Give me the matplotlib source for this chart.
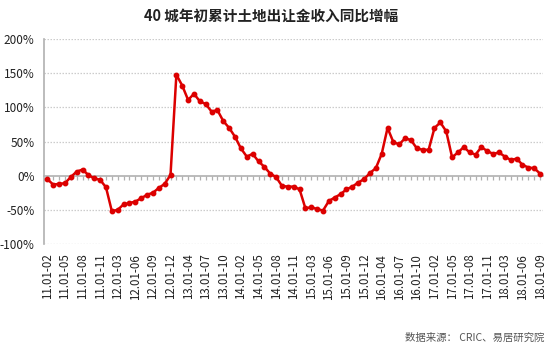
import matplotlib
matplotlib.use("Agg")
import matplotlib.pyplot as plt
import numpy as np

plt.rcParams['font.family'] = ['Noto Sans CJK SC', 'DejaVu Sans']

# Categories: months 02..12 for 2011-2017, 02..09 for 2018
years = ["11", "12", "13", "14", "15", "16", "17", "18"]
months_full = ["02", "03", "04", "05", "06", "07", "08", "09", "10", "11", "12"]
months_last = ["02", "03", "04", "05", "06", "07", "08", "09"]
categories = []
for y in years:
    ms = months_last if y == "18" else months_full
    for m in ms:
        categories.append(f"{y}.01-{m}")

growth = [
    -5, -13, -12, -11, -2, 6, 9, 1, -4, -6, -17,          # 2011
    -52, -50, -42, -40, -38, -33, -28, -25, -18, -12, 1,   # 2012
    148, 132, 111, 120, 109, 105, 94, 96, 80, 70, 57,      # 2013
    40, 28, 32, 21, 13, 3, -2, -15, -16, -16, -20,         # 2014
    -48, -46, -49, -51, -37, -32, -27, -20, -16, -10, -5,  # 2015
    4, 11, 32, 70, 49, 46, 55, 52, 40, 38, 38,             # 2016
    70, 78, 65, 27, 34, 42, 34, 31, 42, 36, 32,            # 2017
    34, 28, 23, 25, 16, 12, 11, 3,                         # 2018
]

yticks = [-100, -50, 0, 50, 100, 150, 200]
ytick_labels = [f"{v}%" for v in yticks]

title = "40 城年初累计土地出让金收入同比增幅"
source = "数据来源： CRIC、易居研究院"

fig = plt.figure(figsize=(5.5, 3.5), dpi=100)
ax = fig.add_axes([0.0807, 0.303, 0.9066, 0.585])

x = np.arange(len(categories))
ax.plot(x, growth, color="#dc0000", linewidth=1.8, marker="o",
        markersize=3.2, markerfacecolor="#dc0000", markeredgecolor="#dc0000",
        zorder=5)

ax.set_xlim(-0.5, len(categories) - 0.5)
ax.set_ylim(-100, 200)
ax.set_yticks(yticks)
ax.set_yticklabels(ytick_labels)
ax.tick_params(axis='y', length=0, pad=7, labelsize=8.5, colors="#222222")

ax.set_xticks(x[::3])
ax.set_xticklabels(categories[::3], rotation=90, fontsize=8.3, color="#222222")
ax.tick_params(axis='x', length=0, pad=7)

for v in yticks:
    if v == 0:
        continue
    ax.axhline(v, color="#cccccc", linewidth=0.9, linestyle=(0, (1.2, 1.2)), zorder=1)

for s in ["top", "right", "bottom"]:
    ax.spines[s].set_visible(False)
ax.spines["left"].set_color("#b0b0b0")
ax.spines["left"].set_linewidth(1.2)

# zero axis with category tick marks
zero_pos = (0 - (-100)) / 300
sec = ax.secondary_xaxis(zero_pos)
sec.set_xticks(x)
sec.tick_params(axis='x', length=3, width=0.9, color="#b0b0b0", direction='out',
                labelbottom=False, labeltop=False)
sec.xaxis.set_ticklabels([])
sec.spines["bottom"].set_color("#b0b0b0")
sec.spines["bottom"].set_linewidth(1.2)

fig.text(0.493, 0.955, title, ha="center", va="center", fontsize=10.5,
         fontweight="bold", color="#222222")
fig.text(0.99, 0.035, source, ha="right", va="center", fontsize=7.5,
         color="#555555")

fig.savefig("out.png", dpi=100, facecolor="white")
